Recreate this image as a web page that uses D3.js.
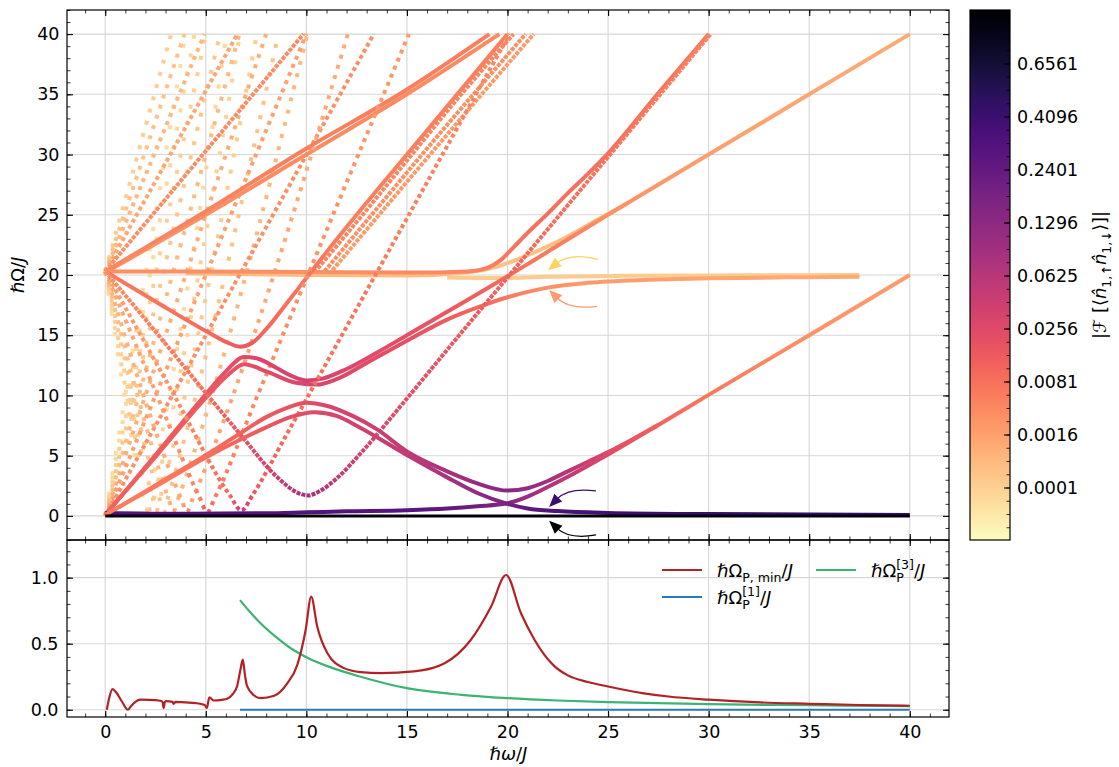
<!DOCTYPE html>
<html>
<head>
<meta charset="utf-8">
<script src="https://cdn.jsdelivr.net/npm/d3@7"></script>
<style>
  body { margin: 0; background: #fff; }
  svg { font-family: "DejaVu Sans", sans-serif; }
</style>
</head>
<body>
<svg width="1119" height="767"></svg>
<script>
// ---- top panel: quasi-energy branches, points are [hbar*omega/J, hbar*Omega/J, |F|] ----
const groundLine = [[0, 0, 0.9], [40, 0, 0.9]];
const lowBranch = [[0,0.25,0.3],[4,0.18,0.3],[8,0.22,0.3],[10,0.3,0.3],[12,0.38,0.3],[15,0.48,0.28],[17,0.62,0.25],[18.5,0.8,0.2],[20,1.05,0.14],[21,1.6,0.1],[22,2.4,0.07],[23,3.25,0.05],[25,5.1,0.025],[27.5,7.55,0.012],[30,10.05,0.006],[35,15,0.0028],[40,20,0.0018]];
const arcLower = [[0,0.1,0.005],[2.5,2.45,0.006],[5,4.85,0.008],[6.8,6.4,0.012],[8,7.35,0.016],[9.2,8.2,0.02],[10.4,8.6,0.025],[11.5,8.3,0.03],[12.7,7.3,0.036],[15,5.05,0.05],[17,3.2,0.08],[18.5,1.9,0.12],[20,1.0,0.18],[21,0.62,0.25],[22.5,0.4,0.32],[25,0.25,0.38],[30,0.15,0.42],[40,0.08,0.45]];
const arcUpper = [[0,0.05,0.005],[2.5,2.55,0.006],[5,5.05,0.008],[6.8,6.95,0.012],[8,8.2,0.015],[9,8.95,0.018],[10,9.4,0.022],[11,9.15,0.028],[12.3,8.3,0.035],[13.5,7.2,0.04],[15,5.35,0.05],[17,3.7,0.08],[18.5,2.7,0.11],[20,2.1,0.14],[21,2.3,0.12],[22,2.9,0.09],[23,3.7,0.06],[24,4.5,0.04],[25,5.3,0.026],[26.2,6.35,0.018],[27.5,7.57,0.012]];
const descendUpper = [[0,20.3,0.006],[2.5,17.8,0.007],[5,15.35,0.009],[6,14.45,0.012],[6.7,14.05,0.016],[7.3,14.35,0.014],[8,15.5,0.01],[9,17.6,0.008],[10,19.75,0.007],[11,21.9,0.006],[12.5,25,0.005],[15,30,0.005],[17.5,35,0.005],[20,40,0.005]];
const doubleRise = [[0,0.05,0.012],[2.5,5.05,0.014],[5,10.1,0.017],[6,12,0.02],[6.9,13.2,0.025],[7.6,13.05,0.028],[8.5,12.3,0.03],[9.3,11.6,0.032],[10,11.25,0.034],[10.8,11.4,0.032],[12,12.2,0.028],[13.5,13.55,0.024],[15,15,0.02],[17,16.95,0.016],[19,18.9,0.012],[20,19.9,0.009],[21,20.9,0.007],[22.5,22.45,0.005],[25,25,0.003],[30,30,0.0016],[35,35,0.0012],[40,40,0.001]];
const doubleRiseB = [[0,0.15,0.01],[2.5,4.9,0.012],[5,9.8,0.015],[6.1,11.7,0.018],[6.9,12.6,0.02],[8,12,0.024],[9.5,11.05,0.028],[10.5,10.9,0.03],[11.5,11.35,0.028],[13,12.7,0.024],[15,14.55,0.02],[17,16.3,0.014],[19,17.6,0.009],[20,18.15,0.006],[21,18.6,0.004],[22,18.95,0.003],[24,19.35,0.002],[27,19.6,0.0016],[30,19.72,0.0013],[35,19.82,0.0011],[37.5,19.85,0.001]];
const flatUpper = [[0,20.3,0.003],[5,20.3,0.003],[10,20.25,0.003],[15,20.2,0.0035],[18,20.3,0.004],[19,20.6,0.005],[19.7,21.3,0.006],[20.3,22.3,0.007],[21,23.5,0.008],[22,25.1,0.008],[23,26.8,0.008],[24,28.4,0.008],[25,30.1,0.008],[27.5,35.1,0.007],[30,40,0.006]];
const flatLower = [[4,20.15,0.0004],[10,20,0.0004],[15,19.95,0.0004],[18,20.2,0.0003],[19.5,20.7,0.0003],[20.5,21.3,0.0003],[21.5,22,0.0003],[23,23.2,0.0004],[24.5,24.6,0.0006],[26,26,0.0008]];
const flatFaint = [[17,19.8,0.00015],[20,19.75,0.00015],[22,19.85,0.00015],[26,19.93,0.00015],[32,19.97,0.00015],[37.5,20,0.00015]];
const steepBranch = [[0,20.3,0.003],[2.5,15.3,0.005],[5,10.2,0.008],[6.8,6.6,0.02],[8.5,3.3,0.04],[9.6,1.9,0.07],[10.1,1.7,0.09],[10.6,2,0.075],[11.5,3.1,0.05],[12.7,5.2,0.035],[15,9.75,0.022],[17.5,14.8,0.016],[20,19.8,0.012],[22,23.8,0.009],[25,29.8,0.007],[27.5,34.8,0.0055],[30.1,40,0.0045]];
const upOne = [[0,20.3,0.004],[5,25.3,0.0045],[10,30.5,0.005],[15,35.4,0.005],[19.1,40,0.005]];
const upOneB = [[0,20.2,0.0025],[5,25,0.003],[10,30,0.0035],[15,35,0.0035],[19.6,40,0.0035]];
const upTwo = [[0,20.3,0.003],[5,30.3,0.0035],[9.85,40,0.0035]];
const twoA = [[10.4,20.2,0.004],[12.5,24.4,0.004],[15,29.5,0.004],[17.5,34.6,0.004],[20.3,40,0.004]];
const twoB = [[10.9,20.3,0.003],[13,24.5,0.003],[16,30.5,0.003],[20.9,40,0.003]];
const twoC = [[11.3,20.4,0.002],[16,29.7,0.002],[21.3,40,0.002]];
const fan3 = [[0,0,0.003],[13.35,40,0.003]];
const fan4 = [[0,0,0.0016],[10,40,0.0016]];
const fan5 = [[0,0,0.0008],[8,40,0.0008]];
const fan6 = [[0,0,0.0004],[6.67,40,0.0004]];
const fan7 = [[0,0,0.0002],[5.71,40,0.0002]];
const fan8 = [[0,0,0.0001],[5,40,0.0001]];
const fan9 = [[0,0,0.00005],[4.44,40,0.00005]];
const fan10 = [[0,0,0.00003],[4,40,0.00003]];
const vee3 = [[0,20.3,0.0015],[3.4,10.1,0.0025],[6.2,1.7,0.01],[6.77,0.45,0.05],[7.35,1.8,0.015],[9,6.7,0.009],[12,15.7,0.007],[15,24.7,0.005],[20.1,40,0.004]];
const vee4 = [[0,20.3,0.001],[2.5,10.3,0.0015],[4.7,1.5,0.005],[5.07,0.3,0.02],[5.45,1.5,0.006],[7.5,9.7,0.004],[10,19.7,0.003],[15.1,40,0.002]];
const vee5 = [[0,20.3,0.0005],[3.8,1.3,0.0012],[4.06,0.3,0.004],[4.32,1.3,0.0015],[12.06,40,0.0009]];
const vee6 = [[0,20.3,0.00025],[3.17,1.3,0.0005],[3.38,0.3,0.0015],[3.6,1.3,0.0006],[10.05,40,0.0005]];
const vee7 = [[0,20.3,0.00012],[2.72,1.3,0.00025],[2.9,0.3,0.0008],[3.08,1.3,0.0003],[8.61,40,0.00025]];
const vee8 = [[0,20.3,0.00008],[2.38,1.3,0.00015],[2.54,0.3,0.0004],[2.7,1.3,0.00015],[7.54,40,0.00012]];
const vee9 = [[0,20.3,0.00005],[2.12,1.3,0.0001],[2.26,0.3,0.00025],[2.4,1.3,0.0001],[6.7,40,0.00008]];
const vee10 = [[0,20.3,0.00003],[1.9,1.3,0.00005],[2.03,0.3,0.00015],[2.16,1.3,0.00005],[6.03,40,0.00005]];
const up3 = [[0,20.3,0.0012],[6.57,40,0.0012]];
const up4 = [[0,20.3,0.0005],[4.93,40,0.0005]];
const up5 = [[0,20.3,0.00025],[3.94,40,0.00025]];
const up6 = [[0,20.3,0.00012],[3.28,40,0.00012]];

const branches = [groundLine, lowBranch, arcLower, arcUpper, descendUpper, doubleRise, doubleRiseB,
  flatUpper, flatLower, flatFaint, steepBranch, upOne, upOneB, upTwo, twoA, twoB, twoC,
  fan3, fan4, fan5, fan6, fan7, fan8, fan9, fan10,
  vee3, vee4, vee5, vee6, vee7, vee8, vee9, vee10, up3, up4, up5, up6];

// annotation arrows: tail and tip in data units
const arrowTails = [[24.5, 21.3], [24.45, 17.4], [24.4, 2.07], [24.4, -1.58]];
const arrowTips = [[22.02, 20.4], [22.07, 18.76], [22.07, 0.75], [22.07, -0.41]];

// ---- bottom panel ----
const pMin = [[0.08,0],[0.2,0.09],[0.36,0.156],[0.55,0.13],[0.8,0.07],[1.13,0.0],[1.3,0.03],[1.5,0.06],[1.74,0.076],[2.2,0.075],[2.74,0.068],[2.85,0.06],[2.9,0.012],[2.97,0.06],[3.05,0.065],[3.35,0.06],[3.4,0.045],[3.5,0.06],[4,0.055],[4.5,0.05],[4.95,0.035],[5.05,0.013],[5.18,0.093],[5.4,0.07],[5.8,0.075],[6.06,0.083],[6.35,0.12],[6.56,0.18],[6.72,0.3],[6.84,0.38],[6.95,0.26],[7.05,0.18],[7.39,0.11],[7.72,0.088],[8.4,0.106],[9.05,0.2],[9.55,0.34],[9.96,0.6],[10.24,0.856],[10.54,0.63],[11.04,0.43],[11.87,0.315],[12.7,0.285],[13.7,0.277],[15.36,0.29],[16.85,0.35],[18.18,0.53],[19.18,0.78],[19.93,1.02],[20.67,0.73],[21.34,0.53],[22.33,0.33],[23,0.26],[24,0.21],[25,0.176],[26.7,0.126],[28,0.1],[30,0.076],[32.6,0.055],[35,0.045],[37.5,0.036],[40,0.03]];
const pOne = [[6.7,0],[40,0]];
const pThree = [[6.7,0.83],[7.2,0.74],[7.72,0.655],[8.5,0.55],[9.38,0.45],[10.1,0.39],[11.04,0.33],[12.7,0.25],[15,0.163],[17.7,0.113],[20,0.088],[22.5,0.07],[25,0.058],[30,0.042],[35,0.034],[40,0.028]];

const xTicks = [0, 5, 10, 15, 20, 25, 30, 35, 40];
const yTopTicks = [0, 5, 10, 15, 20, 25, 30, 35, 40];
const yBotTicks = [0, 0.5, 1.0];
const cbTicks = [0.0001, 0.0016, 0.0081, 0.0256, 0.0625, 0.1296, 0.2401, 0.4096, 0.6561];

// ---- layout ----
const svg = d3.select("svg");
const L = 67, R = 949, T = 10, MID = 540, B = 717;
const x = d3.scaleLinear().domain([-1.9, 41.95]).range([L, R]);
const yTop = d3.scaleLinear().domain([-2, 42]).range([MID, T]);
const yBot = d3.scaleLinear().domain([-0.055, 1.285]).range([B, MID]);
const norm = d3.scalePow().exponent(0.25).domain([0, 1]).range([0, 1]).clamp(true);
const cmap = a => d3.interpolateMagma(1 - norm(a));
const FS = 17.5;
const defs = svg.append("defs");

defs.append("clipPath").attr("id", "clipTop").append("rect")
  .attr("x", L).attr("y", T).attr("width", R - L).attr("height", MID - T);

// grids
function drawGrid(top, bottom, yScale, yVals) {
  const g = svg.append("g").attr("stroke", "#d6d6d6").attr("stroke-width", 1.1);
  g.selectAll(null).data(xTicks).join("line")
    .attr("x1", d => x(d)).attr("x2", d => x(d)).attr("y1", top).attr("y2", bottom);
  g.selectAll(null).data(yVals).join("line")
    .attr("x1", L).attr("x2", R).attr("y1", d => yScale(d)).attr("y2", d => yScale(d));
}
drawGrid(T, MID, yTop, yTopTicks);
drawGrid(MID, B, yBot, yBotTicks);

// top panel branches, drawn faint first
const lineTop = d3.line().x(d => x(d[0])).y(d => yTop(d[1])).curve(d3.curveMonotoneX);
const order = branches.map((c, i) => i).sort((a, b) => d3.max(branches[a], d => d[2]) - d3.max(branches[b], d => d[2]));
const gCurves = svg.append("g").attr("clip-path", "url(#clipTop)");
order.forEach(i => {
  const c = branches[i];
  const x0 = x(c[0][0]), x1 = x(c[c.length - 1][0]);
  const grad = defs.append("linearGradient").attr("id", "br" + i)
    .attr("gradientUnits", "userSpaceOnUse")
    .attr("x1", x0).attr("x2", x1).attr("y1", 0).attr("y2", 0);
  c.forEach(p => grad.append("stop")
    .attr("offset", (x(p[0]) - x0) / (x1 - x0))
    .attr("stop-color", cmap(p[2])));
  // markers sit every ~0.17 in omega, so steep branches break into dots
  let dx = 0, dy = 0;
  for (let k = 1; k < c.length; k++) {
    dx += Math.abs(x(c[k][0]) - x(c[k - 1][0]));
    dy += Math.abs(yTop(c[k][1]) - yTop(c[k - 1][1]));
  }
  const m = dy / Math.max(dx, 1e-6);
  const step = 3.4 * Math.sqrt(1 + m * m);
  const mark = i === 0 ? 3 : 4;
  const path = gCurves.append("path")
    .attr("d", lineTop(c))
    .attr("fill", "none")
    .attr("stroke", "url(#br" + i + ")")
    .attr("stroke-width", mark);
  if (step - mark > 1.0) path.attr("stroke-dasharray", mark + " " + (step - mark).toFixed(2));
});

// arrows
const arrowColors = ["#fcd35e", "#fb9b6e", "#3a0f6e", "#000000"];
const arrowBend = [1, -1, 1, -1];
arrowTails.forEach((a, i) => {
  const sx = x(a[0]), sy = yTop(a[1]);
  const ex = x(arrowTips[i][0]), ey = yTop(arrowTips[i][1]);
  const dxa = ex - sx, dya = ey - sy;
  const rad = 0.25 * arrowBend[i];
  const cx = (sx + ex) / 2 - rad * dya, cy = (sy + ey) / 2 + rad * dxa;
  const ang = Math.atan2(ey - cy, ex - cx);
  const hl = 13, hw = 5.5;
  const bx = ex - hl * Math.cos(ang), by = ey - hl * Math.sin(ang);
  svg.append("path")
    .attr("d", `M${sx},${sy} Q${cx},${cy} ${bx + 2 * Math.cos(ang)},${by + 2 * Math.sin(ang)}`)
    .attr("fill", "none").attr("stroke", arrowColors[i]).attr("stroke-width", 1.3);
  svg.append("path")
    .attr("d", `M${ex},${ey} L${bx - hw * Math.sin(ang)},${by + hw * Math.cos(ang)} L${bx + hw * Math.sin(ang)},${by - hw * Math.cos(ang)} Z`)
    .attr("fill", arrowColors[i]);
});

// bottom panel lines
const lineBot = d3.line().x(d => x(d[0])).y(d => yBot(d[1])).curve(d3.curveMonotoneX);
svg.append("path").attr("d", lineBot(pOne)).attr("fill", "none")
  .attr("stroke", "#2a7ab8").attr("stroke-width", 2.2);
svg.append("path").attr("d", lineBot(pThree))
  .attr("fill", "none").attr("stroke", "#3cb373").attr("stroke-width", 2.2);
svg.append("path").attr("d", lineBot(pMin))
  .attr("fill", "none").attr("stroke", "#b22125").attr("stroke-width", 2.2);

// axes with inward ticks
function ticks(axisFn, scale, vals, pos, size, labels, fmt) {
  const ax = axisFn(scale).tickValues(vals).tickSize(-size).tickPadding(labels ? 8.5 : 0)
    .tickFormat(labels ? (fmt || d3.format("d")) : "");
  const g = svg.append("g").attr("transform", pos).call(ax);
  g.select(".domain").remove();
  g.selectAll("line").attr("stroke", "#000").attr("stroke-width", size > 4 ? 1.1 : 0.8);
  g.selectAll("text").attr("font-size", FS).attr("fill", "#000").attr("font-family", "DejaVu Sans");
  return g;
}
const xMinor = d3.range(-1, 42, 1);
const yTopMinor = d3.range(-2, 43, 1);
const yBotMinor = d3.range(0, 1.25, 0.1);
// top panel
ticks(d3.axisTop, x, xTicks, `translate(0,${T})`, 6, false);
ticks(d3.axisTop, x, xMinor, `translate(0,${T})`, 3.5, false);
ticks(d3.axisBottom, x, xTicks, `translate(0,${MID})`, 6, false);
ticks(d3.axisBottom, x, xMinor, `translate(0,${MID})`, 3.5, false);
ticks(d3.axisLeft, yTop, yTopTicks, `translate(${L},0)`, 6, true).selectAll("text").attr("dx", "1");
ticks(d3.axisLeft, yTop, yTopMinor, `translate(${L},0)`, 3.5, false);
ticks(d3.axisRight, yTop, yTopTicks, `translate(${R},0)`, 6, false);
ticks(d3.axisRight, yTop, yTopMinor, `translate(${R},0)`, 3.5, false);
// bottom panel
ticks(d3.axisTop, x, xTicks, `translate(0,${MID})`, 6, false);
ticks(d3.axisTop, x, xMinor, `translate(0,${MID})`, 3.5, false);
ticks(d3.axisBottom, x, xTicks, `translate(0,${B})`, 6, true);
ticks(d3.axisBottom, x, xMinor, `translate(0,${B})`, 3.5, false);
ticks(d3.axisLeft, yBot, yBotTicks, `translate(${L},0)`, 6, true, d3.format(".1f"));
ticks(d3.axisLeft, yBot, yBotMinor, `translate(${L},0)`, 3.5, false);
ticks(d3.axisRight, yBot, yBotTicks, `translate(${R},0)`, 6, false);
ticks(d3.axisRight, yBot, yBotMinor, `translate(${R},0)`, 3.5, false);

// spines
svg.append("rect").attr("x", L).attr("y", T).attr("width", R - L).attr("height", MID - T)
  .attr("fill", "none").attr("stroke", "#000").attr("stroke-width", 1.2);
svg.append("rect").attr("x", L).attr("y", MID).attr("width", R - L).attr("height", B - MID)
  .attr("fill", "none").attr("stroke", "#000").attr("stroke-width", 1.2);

// math-ish text helper
function mathText(parent, parts, size) {
  const t = parent.append("text").attr("font-size", size).attr("fill", "#000");
  let cx = 0, stackX = 0, stackW = 0;
  parts.forEach(p => {
    const fs = size * (p.s || 1);
    const sx = p.stack ? stackX : cx;
    const ts = t.append("tspan").attr("x", sx).attr("y", (p.dy || 0) * size)
      .attr("font-size", fs).attr("font-style", p.i ? "italic" : "normal").text(p.t);
    const w = ts.node().getComputedTextLength();
    if (p.stack) cx = stackX + Math.max(stackW, w);
    else { stackX = cx; stackW = w; cx += w; }
  });
  return cx;
}
function placeMath(px, py, parts, size, rotate, anchorMid) {
  const g = svg.append("g");
  const inner = g.append("g");
  const w = mathText(inner, parts, size);
  if (anchorMid) inner.attr("transform", `translate(${-w / 2},0)`);
  g.attr("transform", `translate(${px},${py})` + (rotate ? ` rotate(${rotate})` : ""));
}

// axis labels
placeMath((x(0) + x(40)) / 2 + 1, 760, [{ t: "ℏω", i: true }, { t: "/" }, { t: "J", i: true }], 18, 0, true);
placeMath(24, yTop(20), [{ t: "ℏ", i: true }, { t: "Ω" }, { t: "/" }, { t: "J", i: true }], 18, -90, true);

// legend
const legend = [
  { c: "#b22125", lx: 662, ly: 570, parts: [{ t: "ℏ", i: true }, { t: "Ω" }, { t: "P, min", s: 0.7, dy: 0.3 }, { t: "/" }, { t: "J", i: true }] },
  { c: "#2a7ab8", lx: 662, ly: 597, parts: [{ t: "ℏ", i: true }, { t: "Ω" }, { t: "P", s: 0.7, dy: 0.32 }, { t: "[1]", s: 0.7, dy: -0.42, stack: true }, { t: "/" }, { t: "J", i: true }] },
  { c: "#3cb373", lx: 816, ly: 570, parts: [{ t: "ℏ", i: true }, { t: "Ω" }, { t: "P", s: 0.7, dy: 0.32 }, { t: "[3]", s: 0.7, dy: -0.42, stack: true }, { t: "/" }, { t: "J", i: true }] }
];
legend.forEach(e => {
  svg.append("line").attr("x1", e.lx).attr("x2", e.lx + 40).attr("y1", e.ly).attr("y2", e.ly)
    .attr("stroke", e.c).attr("stroke-width", 2.2);
  placeMath(e.lx + 55, e.ly + 6.5, e.parts, 18, 0, false);
});

// colorbar
const cbL = 970, cbR = 1010;
const cbY = d3.scalePow().exponent(0.25).domain([0, 1]).range([541, 11]);
const cbGrad = defs.append("linearGradient").attr("id", "cbg")
  .attr("x1", 0).attr("y1", 1).attr("x2", 0).attr("y2", 0);
d3.range(0, 1.0001, 0.02).forEach(o => cbGrad.append("stop").attr("offset", o)
  .attr("stop-color", d3.interpolateMagma(1 - o)));
svg.append("rect").attr("x", cbL).attr("y", T).attr("width", cbR - cbL).attr("height", MID - T)
  .attr("fill", "url(#cbg)");
const cbMinor = d3.range(0.025, 1, 0.025).map(s => Math.pow(s, 4));
svg.append("g").selectAll(null).data(cbMinor).join("line")
  .attr("x1", cbR - 3.5).attr("x2", cbR).attr("y1", d => cbY(d)).attr("y2", d => cbY(d))
  .attr("stroke", "#000").attr("stroke-width", 0.8);
svg.append("g").selectAll(null).data(cbTicks).join("line")
  .attr("x1", cbR - 6).attr("x2", cbR).attr("y1", d => cbY(d)).attr("y2", d => cbY(d))
  .attr("stroke", "#000").attr("stroke-width", 1.1);
svg.append("g").selectAll(null).data(cbTicks).join("text")
  .attr("x", cbR + 7).attr("y", d => cbY(d)).attr("dy", "0.35em")
  .attr("font-size", FS).text(d => d.toFixed(4));
svg.append("rect").attr("x", cbL).attr("y", T).attr("width", cbR - cbL).attr("height", MID - T)
  .attr("fill", "none").attr("stroke", "#000").attr("stroke-width", 1.2);
placeMath(1106, (T + MID) / 2, [{ t: "|ℱ [⟨" }, { t: "n̂", i: true }, { t: "1,↑", s: 0.7, dy: 0.3 }, { t: " " }, { t: "n̂", i: true }, { t: "1,↓", s: 0.7, dy: 0.3 }, { t: "⟩]|" }], 18, -90, true);
</script>
</body>
</html>
